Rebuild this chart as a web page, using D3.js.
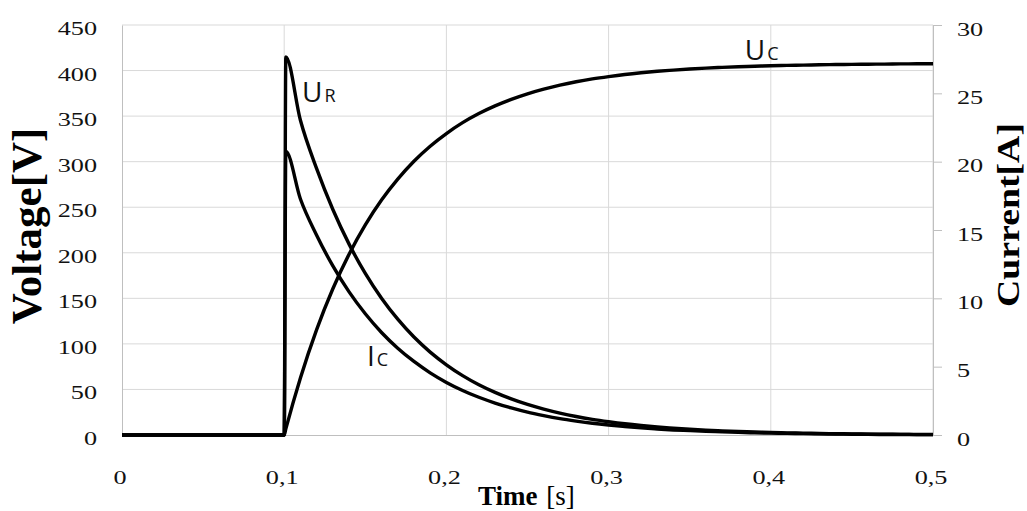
<!DOCTYPE html>
<html>
<head>
<meta charset="utf-8">
<script src="https://cdn.jsdelivr.net/npm/d3@7"></script>
<style>
  body { margin: 0; background: #fff; }
  svg { display: block; }
</style>
</head>
<body>
<div id="chart"></div>
<script>
// time samples [s]
const time = [0, 0.1, 0.101, 0.11, 0.12, 0.13, 0.14, 0.15, 0.16, 0.17, 0.18, 0.19, 0.2,
  0.21, 0.22, 0.23, 0.24, 0.25, 0.26, 0.27, 0.28, 0.29, 0.3,
  0.31, 0.32, 0.33, 0.34, 0.35, 0.36, 0.37, 0.38, 0.39, 0.4,
  0.41, 0.42, 0.43, 0.44, 0.45, 0.46, 0.47, 0.48, 0.49, 0.5]

// capacitor voltage Uc [V]
const voltageC = [0, 0, 6.7, 62.6, 115.7, 160.5, 198.5, 230.7, 257.9, 280.9, 300.5, 317.0, 330.9,
  342.8, 352.8, 361.2, 368.4, 374.5, 379.6, 384.0, 387.7, 390.8, 393.4,
  395.7, 397.6, 399.2, 400.5, 401.7, 402.7, 403.5, 404.2, 404.7, 405.3,
  405.7, 406.0, 406.3, 406.6, 406.8, 407.0, 407.1, 407.3, 407.4, 407.5]

// resistor voltage Ur [V]
const voltageR = [0, 0, 415, 345.4, 292.3, 247.5, 209.5, 177.3, 150.1, 127.1, 107.5, 91.0, 77.1,
  65.2, 55.2, 46.8, 39.6, 33.5, 28.4, 24.0, 20.3, 17.2, 14.6,
  12.3, 10.4, 8.8, 7.5, 6.3, 5.3, 4.5, 3.8, 3.3, 2.7,
  2.3, 2.0, 1.7, 1.4, 1.2, 1.0, 0.9, 0.7, 0.6, 0.5]

// capacitor current Ic [A] (right axis)
const currentC = [0, 0, 20.75, 17.27, 14.62, 12.37, 10.47, 8.87, 7.50, 6.35, 5.38, 4.55, 3.85,
  3.26, 2.76, 2.34, 1.98, 1.67, 1.42, 1.20, 1.02, 0.86, 0.73,
  0.62, 0.52, 0.44, 0.37, 0.32, 0.27, 0.23, 0.19, 0.16, 0.14,
  0.12, 0.10, 0.08, 0.07, 0.06, 0.05, 0.04, 0.04, 0.03, 0.03]

const xTicks = [0, 0.1, 0.2, 0.3, 0.4, 0.5]
const voltTicks = [0, 50, 100, 150, 200, 250, 300, 350, 400, 450]
const ampTicks = [0, 5, 10, 15, 20, 25, 30]

// curve annotations: main letter, subscript, anchor (time, volts)
const labelMain = ["U", "I", "U"]
const labelSub = ["R", "C", "C"]
const labelT = [0.111, 0.151, 0.384]
const labelV = [365, 76, 412]

const width = 1027, height = 511
const plotLeft = 122, plotRight = 933, plotTop = 25, plotBottom = 435
const tickFont = "'Liberation Serif', 'Times New Roman', serif"
const stretch = 1.38   // tick labels in the picture are drawn wide

let svg = d3.select("#chart").append("svg")
    .attr("width", width)
    .attr("height", height)

let x = d3.scaleLinear().domain([0, 0.5]).range([plotLeft, plotRight])
let yV = d3.scaleLinear().domain([0, 450]).range([plotBottom, plotTop])
let yA = d3.scaleLinear().domain([0, 30]).range([plotBottom, plotTop])

// grid
let grid = svg.append("g").attr("id", "grid")
grid.selectAll("line.h")
    .data(voltTicks.slice(1))
    .enter().append("line")
    .attr("class", "h")
    .attr("x1", plotLeft).attr("x2", plotRight)
    .attr("y1", d => yV(d)).attr("y2", d => yV(d))
    .attr("stroke", "#d9d9d9")
grid.selectAll("line.v")
    .data(xTicks.slice(1))
    .enter().append("line")
    .attr("class", "v")
    .attr("x1", d => x(d)).attr("x2", d => x(d))
    .attr("y1", plotTop).attr("y2", plotBottom)
    .attr("stroke", "#d9d9d9")

// left axis line + labels
let leftAxis = d3.axisLeft(yV).tickValues(voltTicks).tickSize(0).tickFormat(d3.format("d"))
let gL = svg.append("g")
    .attr("transform", `translate(${plotLeft},0)`)
    .call(leftAxis)
gL.select(".domain").attr("stroke", "#bfbfbf")
gL.selectAll("text")
    .attr("x", -25 / stretch)
    .attr("dy", null)
    .attr("y", 9.5)
    .attr("transform", `scale(${stretch},1)`)
    .style("font-family", tickFont)
    .style("font-size", "19px")
    .attr("fill", "#111")

// right axis
let rightAxis = d3.axisRight(yA).tickValues(ampTicks).tickSize(9).tickFormat(d3.format("d"))
let gR = svg.append("g")
    .attr("transform", `translate(${plotRight},0)`)
    .call(rightAxis)
gR.select(".domain").attr("stroke", "#bfbfbf")
gR.selectAll("line").attr("stroke", "#bfbfbf")
gR.selectAll("text")
    .attr("x", 24 / stretch)
    .attr("dy", null)
    .attr("y", 10)
    .attr("transform", `scale(${stretch},1)`)
    .style("font-family", tickFont)
    .style("font-size", "19px")
    .attr("fill", "#111")

// bottom axis
let bottomAxis = d3.axisBottom(x).tickValues(xTicks).tickSize(0)
    .tickFormat(d => d === 0 ? "0" : d3.format(".1f")(d).replace(".", ","))
let gB = svg.append("g")
    .attr("transform", `translate(0,${plotBottom})`)
    .call(bottomAxis)
gB.select(".domain").attr("stroke", "#bfbfbf")
gB.selectAll(".tick")
    .attr("transform", d => `translate(${x(d) - 2},0)`)
gB.selectAll("text")
    .attr("dy", null)
    .attr("y", 49)
    .attr("transform", `scale(${stretch},1)`)
    .style("font-family", tickFont)
    .style("font-size", "19px")
    .attr("fill", "#111")

// series
let rows = time.map((t, i) => ({t: t, uc: voltageC[i], ur: voltageR[i], ic: currentC[i]}))

let lineUc = d3.line().x(d => x(d.t)).y(d => yV(d.uc)).curve(d3.curveMonotoneX)
let lineUr = d3.line().x(d => x(d.t)).y(d => yV(d.ur)).curve(d3.curveMonotoneX)
let lineIc = d3.line().x(d => x(d.t)).y(d => yA(d.ic)).curve(d3.curveMonotoneX)

let series = svg.append("g").attr("id", "series")
    .attr("fill", "none")
    .attr("stroke", "#000")
    .attr("stroke-width", 3.4)
    .attr("stroke-linejoin", "round")
series.append("path").attr("d", lineIc(rows))
series.append("path").attr("d", lineUr(rows))
series.append("path").attr("d", lineUc(rows))

// curve labels
let labels = svg.append("g").attr("id", "curveLabels")
    .style("font-family", "'Open Sans', 'Liberation Sans', sans-serif")
    .attr("fill", "#111")
labelMain.forEach((m, i) => {
    let txt = labels.append("text")
        .attr("x", x(labelT[i]))
        .attr("y", yV(labelV[i]))
    txt.append("tspan").style("font-size", "28px").text(m)
    txt.append("tspan").style("font-size", "18px").attr("dx", 2).text(labelSub[i])
})

// axis titles
let xTitle = svg.append("text")
    .attr("x", 478)
    .attr("y", 505)
    .style("font-family", tickFont)
    .attr("fill", "#000")
xTitle.append("tspan").style("font-size", "27px").style("font-weight", "bold").text("Time ")
xTitle.append("tspan").style("font-size", "27px").attr("dx", 2).text("[s]")

svg.append("text")
    .attr("transform", "translate(41,226) rotate(-90)")
    .attr("text-anchor", "middle")
    .style("font-family", tickFont)
    .style("font-size", "43px")
    .style("font-weight", "bold")
    .text("Voltage[V]")

svg.append("text")
    .attr("transform", "translate(1019,215) rotate(-90)")
    .attr("text-anchor", "middle")
    .attr("textLength", 184)
    .attr("lengthAdjust", "spacingAndGlyphs")
    .style("font-family", tickFont)
    .style("font-size", "31px")
    .style("font-weight", "bold")
    .text("Current[A]")
</script>
</body>
</html>
